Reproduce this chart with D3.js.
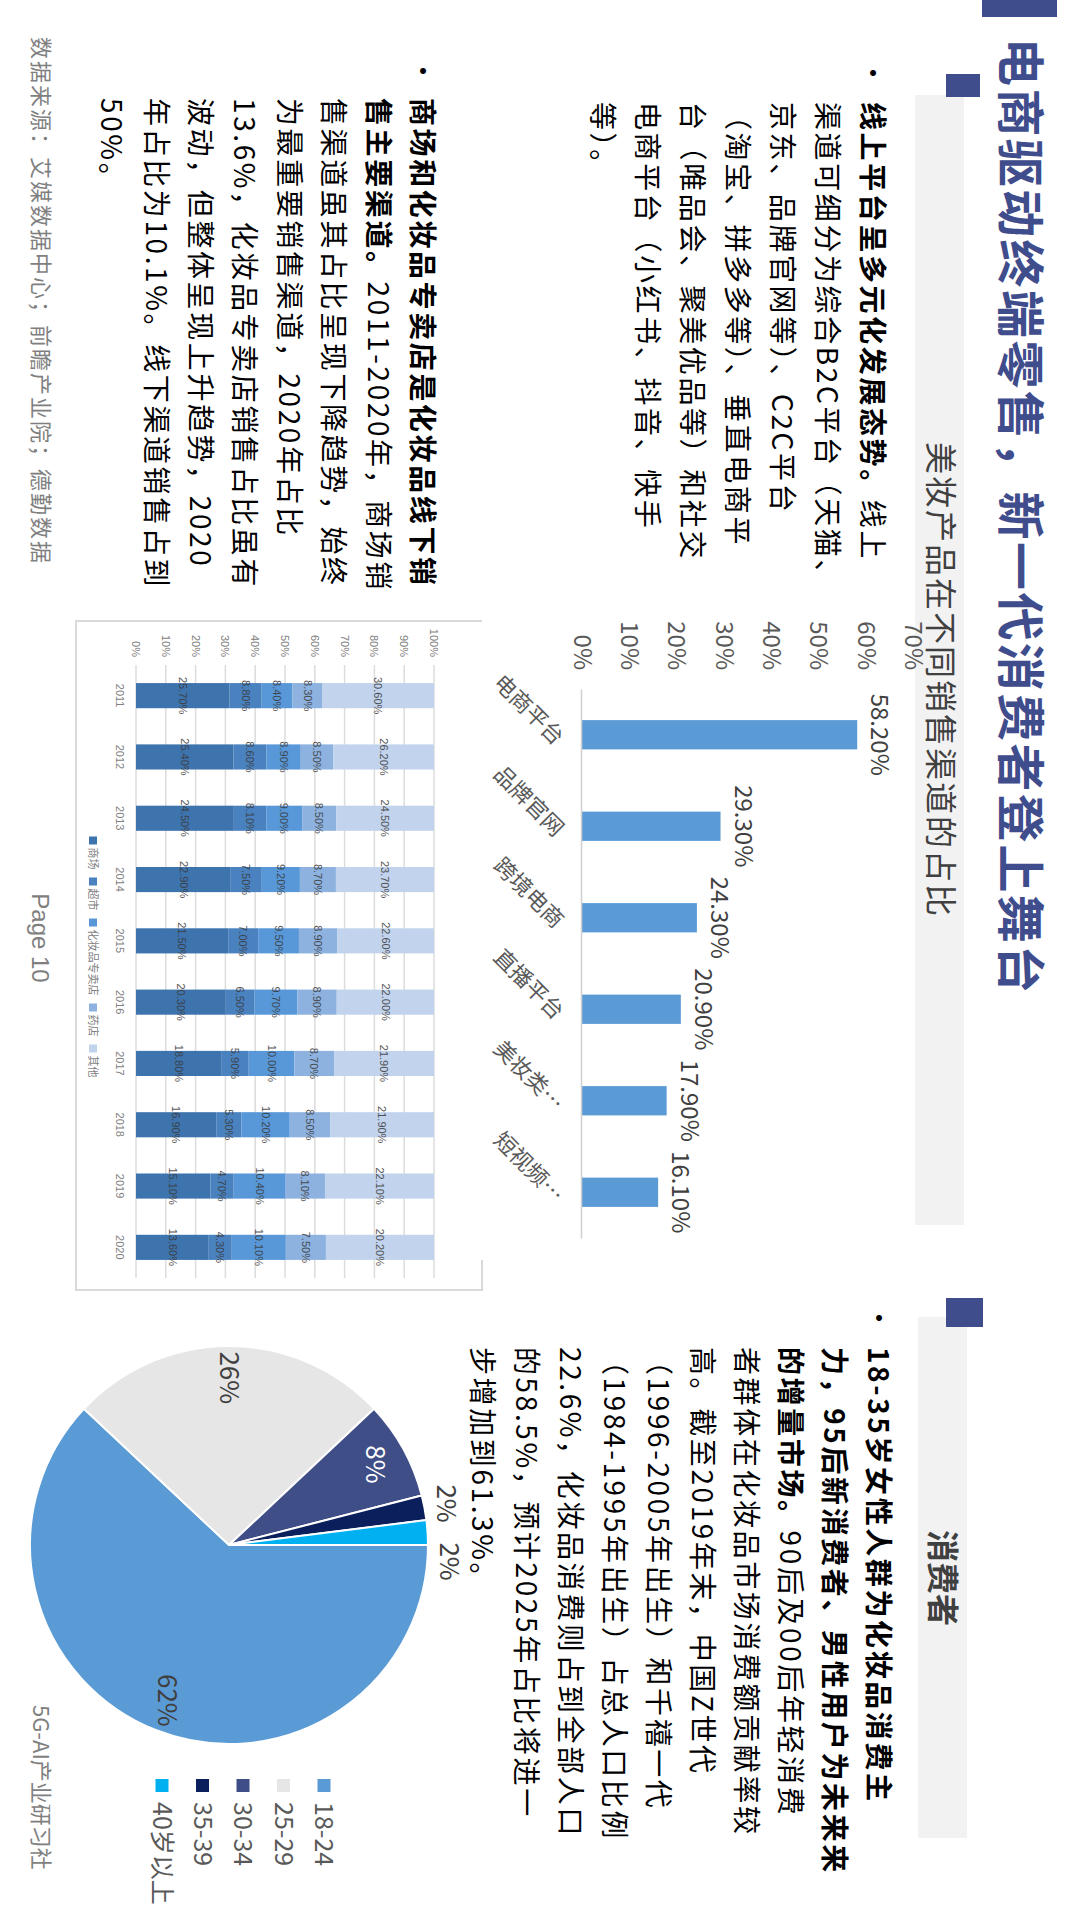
<!DOCTYPE html>
<html><head><meta charset="utf-8">
<script src="https://cdn.jsdelivr.net/npm/d3@7"></script>
<style>
html,body{margin:0;padding:0;background:#fff;}
svg{display:block;}
text{font-family:"Noto Sans CJK SC","Noto Sans",sans-serif;}
</style></head><body>
<svg id="c" width="1080" height="1920"></svg>
<script>
// ---------- DATA ----------
const channelCats = ["电商平台","品牌官网","跨境电商","直播平台","美妆类…","短视频…"];
const channelShare = [58.2, 29.3, 24.3, 20.9, 17.9, 16.1];
const channelTicks = [0,10,20,30,40,50,60,70];

const years = ["2011","2012","2013","2014","2015","2016","2017","2018","2019","2020"];
const stackKeys = ["商场","超市","化妆品专卖店","药店","其他"];
const mallShare  = [25.7,25.4,24.5,22.9,21.5,20.3,18.8,16.9,15.1,13.6];
const superShare = [8.8,8.6,8.1,7.5,7.0,6.5,5.9,5.3,4.7,4.3];
const storeShare = [8.4,8.9,9.0,9.2,9.5,9.7,10.0,10.2,10.4,10.1];
const drugShare  = [8.3,8.5,8.5,8.7,8.9,8.9,8.7,8.5,8.1,7.5];
const otherShare = [30.6,26.2,24.5,23.7,22.6,22.0,21.9,21.9,22.1,20.2];
const stackTicks = [0,10,20,30,40,50,60,70,80,90,100];

const ageGroups = ["18-24","25-29","30-34","35-39","40岁以上"];
const ageShare = [62, 26, 8, 2, 2];

// ---------- STYLE ----------
const NAVY = "#3f4d8c";
const stackColors = ["#3e74ae","#4a82c0","#5898d8","#8db2df","#c2d4ed"];
const ageColors = ["#5b9bd5","#e7e6e6","#404e87","#0b1f5c","#00b0f0"];

const svg = d3.select("#c");
// slide drawn in landscape coordinates (1920x1080) and rotated 90deg clockwise
const g = svg.append("g").attr("transform","translate(1080,0) rotate(90)");

// ---------- DECORATION ----------
g.append("rect").attr("x",0).attr("y",23).attr("width",17).attr("height",75).attr("fill",NAVY);
g.append("rect").attr("x",95).attr("y",116).attr("width",1130).attr("height",49).attr("fill","#f2f2f2");
g.append("rect").attr("x",1317).attr("y",113).attr("width",521).attr("height",49).attr("fill","#f2f2f2");
g.append("rect").attr("x",74).attr("y",100).attr("width",23).attr("height",34).attr("fill",NAVY);
g.append("rect").attr("x",1298).attr("y",97).attr("width",29).attr("height",37).attr("fill",NAVY);

g.append("text").attr("x",38).attr("y",60).attr("dy","0.36em")
  .style("font-size","48px").style("font-weight","700").style("letter-spacing","2.4px")
  .attr("fill",NAVY).text("电商驱动终端零售，新一代消费者登上舞台");

g.append("text").attr("x",1578).attr("y",137).attr("dy","0.36em").attr("text-anchor","middle")
  .style("font-size","32px").style("font-weight","700").attr("fill","#404040").text("消费者");

// ---------- PARAGRAPHS ----------
function para(x0, bx0, y0, lh, lines){
  g.append("text").attr("x",bx0).attr("y",y0).attr("dy","0.36em")
    .style("font-size","28px").attr("fill","#000").text("•");
  lines.forEach((segs,i)=>{
    const t = g.append("text").attr("x",x0).attr("y",y0+i*lh).attr("dy","0.36em")
      .style("font-size","28px").style("letter-spacing","2.6px").attr("fill","#000");
    segs.forEach(s=>t.append("tspan").style("font-weight", s[1]?700:400).text(s[0]));
  });
}
para(102, 59, 208, 45, [
  [["线上平台呈多元化发展态势。",1],["线上",0]],
  [["渠道可细分为综合B2C平台（天猫、",0]],
  [["京东、品牌官网等）、C2C平台",0]],
  [["（淘宝、拼多多等）、垂直电商平",0]],
  [["台（唯品会、聚美优品等）和社交",0]],
  [["电商平台（小红书、抖音、快手",0]],
  [["等）。",0]]
]);
para(98, 57, 658, 44.4, [
  [["商场和化妆品专卖店是化妆品线下销",1]],
  [["售主要渠道。",1],["2011-2020年，商场销",0]],
  [["售渠道虽其占比呈现下降趋势，始终",0]],
  [["为最重要销售渠道，2020年占比",0]],
  [["13.6%，化妆品专卖店销售占比虽有",0]],
  [["波动，但整体呈现上升趋势，2020",0]],
  [["年占比为10.1%。线下渠道销售占到",0]],
  [["50%。",0]]
]);
para(1347, 1304, 202, 44, [
  [["18-35岁女性人群为化妆品消费主",1]],
  [["力，95后新消费者、男性用户为未来来",1]],
  [["的增量市场。",1],["90后及00后年轻消费",0]],
  [["者群体在化妆品市场消费额贡献率较",0]],
  [["高。截至2019年末，中国Z世代",0]],
  [["（1996-2005年出生）和千禧一代",0]],
  [["（1984-1995年出生）占总人口比例",0]],
  [["22.6%，化妆品消费则占到全部人口",0]],
  [["的58.5%，预计2025年占比将进一",0]],
  [["步增加到61.3%。",0]]
]);

// footers
g.append("text").attr("x",37).attr("y",1039).attr("dy","0.36em")
  .style("font-size","22px").style("letter-spacing","2px").attr("fill","#7f7f7f")
  .text("数据来源：艾媒数据中心；前瞻产业院；德勤数据");
g.append("text").attr("x",938).attr("y",1039).attr("dy","0.36em").attr("text-anchor","middle")
  .style("font-size","24px").style("font-family","'Liberation Sans',Arial,sans-serif").attr("fill","#7f7f7f").text("Page 10");
g.append("text").attr("x",1705).attr("y",1039).attr("dy","0.36em")
  .style("font-size","22px").attr("fill","#7f7f7f").text("5G-AI产业研习社");

// ---------- BAR CHART ----------
const bx = d3.scaleBand().domain(channelCats).range([689,1238]).paddingInner(0.68).paddingOuter(0.34);
const by = d3.scaleLinear().domain([0,70]).range([498,167]);
const bar = g.append("g");
bar.append("g").attr("transform","translate(670,0)")
  .call(d3.axisLeft(by).tickValues(channelTicks).tickFormat(d=>d+"%").tickSize(0).tickPadding(0))
  .call(a=>{a.select(".domain").remove();
    a.selectAll("text").style("font-size","24px").attr("fill","#595959")
      .style("font-family","'Noto Sans CJK SC',sans-serif");});
bar.selectAll("rect").data(channelShare).join("rect")
  .attr("x",(d,i)=>bx(channelCats[i])).attr("width",bx.bandwidth())
  .attr("y",d=>by(d)).attr("height",d=>by(0)-by(d)).attr("fill","#5b9bd5");
bar.append("g").attr("transform","translate(0,498)")
  .call(d3.axisBottom(bx).tickSize(0).tickSizeOuter(0))
  .call(a=>{a.select(".domain").attr("stroke","#d0d0d0").attr("stroke-width",1.5);
    a.selectAll("text").attr("y",0).attr("dy","0.35em").attr("text-anchor","end")
      .attr("transform","translate(6,22) rotate(-45)")
      .style("font-size","22px").attr("fill","#595959")
      .style("font-family","'Noto Sans CJK SC',sans-serif");});
bar.selectAll("text.val").data(channelShare).join("text").attr("class","val")
  .attr("x",(d,i)=>bx(channelCats[i])+bx.bandwidth()/2).attr("y",d=>by(d)-14)
  .attr("text-anchor","middle").style("font-size","24px").attr("fill","#404040")
  .text(d=>d.toFixed(2)+"%");

g.append("text").attr("x",680).attr("y",139).attr("dy","0.36em").attr("text-anchor","middle")
  .style("font-size","32px").style("letter-spacing","2px").attr("fill","#404040")
  .text("美妆产品在不同销售渠道的占比");

// ---------- STACKED CHART ----------
const sc = g.append("g");
sc.append("path").attr("d","M1260,598 L1290,598 L1290,1004 L621,1004 L621,598")
  .attr("fill","none").attr("stroke","#d9d9d9").attr("stroke-width",2);
const sx = d3.scaleBand().domain(years).range([665,1278]).paddingInner(0.59).paddingOuter(0.295);
const sy = d3.scaleLinear().domain([0,100]).range([944,646]);
sc.append("g").selectAll("line").data(stackTicks).join("line")
  .attr("x1",665).attr("x2",1278).attr("y1",d=>sy(d)).attr("y2",d=>sy(d))
  .attr("stroke","#dcdcdc").attr("stroke-width",1.5);
sc.append("g").attr("transform","translate(657,0)")
  .call(d3.axisLeft(sy).tickValues(stackTicks).tickFormat(d=>d+"%").tickSize(0).tickPadding(0))
  .call(a=>{a.select(".domain").remove();
    a.selectAll("text").style("font-size","11px").attr("fill","#808080")
      .style("font-family","'Liberation Sans',Arial,sans-serif");});
const rows = years.map((y,i)=>({year:y,"商场":mallShare[i],"超市":superShare[i],
  "化妆品专卖店":storeShare[i],"药店":drugShare[i],"其他":otherShare[i]}));
const series = d3.stack().keys(stackKeys).offset(d3.stackOffsetExpand)(rows);
const layer = sc.selectAll("g.layer").data(series).join("g").attr("class","layer")
  .attr("fill",(d,i)=>stackColors[i]);
layer.selectAll("rect").data(d=>d).join("rect")
  .attr("x",d=>sx(d.data.year)).attr("width",sx.bandwidth())
  .attr("y",d=>sy(d[1]*100)).attr("height",d=>sy(d[0]*100)-sy(d[1]*100));
series.forEach(s=>{
  sc.append("g").selectAll("text").data(s).join("text")
    .attr("x",d=>sx(d.data.year)+sx.bandwidth()/2).attr("y",d=>sy((d[0]+d[1])*50))
    .attr("dy","0.35em").attr("text-anchor","middle")
    .style("font-size","11px").style("font-family","'Liberation Sans',Arial,sans-serif")
    .attr("fill","#3a3a3a").attr("opacity",0.85)
    .text(d=>d.data[s.key].toFixed(2)+"%");
});
sc.append("g").attr("transform","translate(0,952)")
  .call(d3.axisBottom(sx).tickSize(0).tickSizeOuter(0).tickPadding(0))
  .call(a=>{a.select(".domain").remove();
    a.selectAll("text").attr("dy","0.35em").attr("y",8).style("font-size","11px").attr("fill","#7f7f7f")
      .style("font-family","'Liberation Sans',Arial,sans-serif");});
// legend
const lg = sc.append("g");
let lx = 0;
stackKeys.forEach((k,i)=>{
  lg.append("rect").attr("x",lx).attr("y",983).attr("width",8).attr("height",8).attr("fill",stackColors[i]);
  const t = lg.append("text").attr("x",lx+11).attr("y",987).attr("dy","0.36em")
    .style("font-size","11px").attr("fill","#7f7f7f").text(k);
  lx += 11 + t.node().getComputedTextLength() + 8;
});
lg.attr("transform",`translate(${957-(lx-8)/2},0)`);

// ---------- PIE ----------
const R = 199;
const pieData = d3.pie().sort(null).value(d=>d)(ageShare);
const arc = d3.arc().innerRadius(0).outerRadius(R);
const pg = g.append("g").attr("transform","translate(1545,851)");
pg.selectAll("path").data(pieData).join("path").attr("d",arc)
  .attr("fill",(d,i)=>ageColors[i]).attr("stroke","#fff").attr("stroke-width",2);
let prevOut = null;
pieData.forEach((d,i)=>{
  const big = d.data >= 5;
  const rr = big ? R*0.84 : R*1.11;
  const a = (d.startAngle+d.endAngle)/2;
  let px = Math.sin(a)*rr, py = -Math.cos(a)*rr;
  if(!big){
    if(prevOut && Math.abs(px-prevOut[0])<40){ px = prevOut[0]+58; py = prevOut[1]-3; }
    prevOut = [px,py];
  }
  pg.append("text").attr("x",px).attr("y",py).attr("dy","0.36em").attr("text-anchor","middle")
    .style("font-size","26px").attr("fill", i===2 ? "#ffffff" : "#404040")
    .text(d.data+"%");
});
// legend
ageGroups.forEach((k,i)=>{
  const yy = 756 + i*40.5;
  g.append("rect").attr("x",1779).attr("y",yy-6.5).attr("width",13).attr("height",13).attr("fill",ageColors[i]);
  g.append("text").attr("x",1802).attr("y",yy).attr("dy","0.36em")
    .style("font-size","25px").attr("fill","#595959").text(k);
});
</script>
</body></html>
